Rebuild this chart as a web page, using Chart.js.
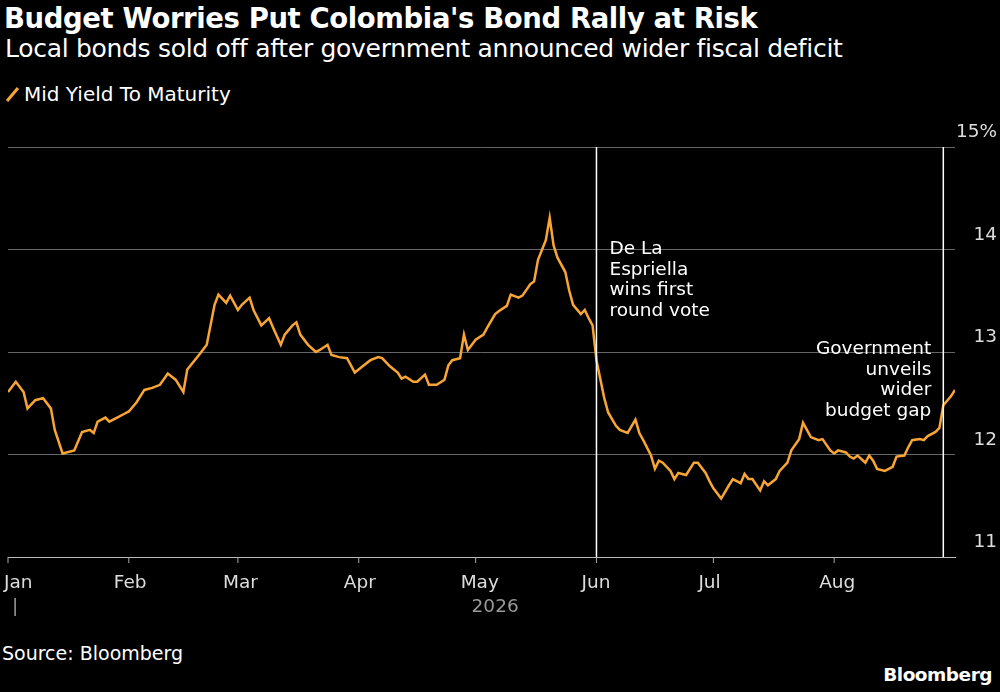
<!DOCTYPE html>
<html>
<head>
<meta charset="utf-8">
<script src="https://cdn.jsdelivr.net/npm/chart.js@4.4.1/dist/chart.umd.min.js"></script>
<style>
  html, body { margin: 0; padding: 0; background: #000; }
  body { width: 1000px; height: 692px; position: relative; overflow: hidden; font-family: "DejaVu Sans", sans-serif; color: #fff; }
  #title { position: absolute; left: 4px; top: 2px; font-size: 27.5px; font-weight: bold; letter-spacing: -0.4px; }
  #subtitle { position: absolute; left: 5px; top: 34px; font-size: 25px; letter-spacing: -0.3px; }
  #legend { position: absolute; left: 5px; top: 82px; font-size: 20px; }
  #legend i { display: inline-block; width: 3px; height: 17px; background: #f9a535; transform: rotate(40deg); margin: 0 10px 0 6px; vertical-align: -2px; }
  #source { position: absolute; left: 2px; top: 642px; font-size: 19px; }
  #brand { position: absolute; right: 8px; top: 664px; font-size: 18.5px; font-weight: bold; letter-spacing: -0.5px; }
  #wrap { position: absolute; left: 0; top: 0; width: 1000px; height: 692px; }
</style>
</head>
<body>
<div id="title">Budget Worries Put Colombia's Bond Rally at Risk</div>
<div id="subtitle">Local bonds sold off after government announced wider fiscal deficit</div>
<div id="legend"><i></i>Mid Yield To Maturity</div>
<div id="source">Source: Bloomberg</div>
<div id="brand">Bloomberg</div>
<div id="wrap"><canvas id="chart"></canvas></div>
<script>
// day of year 2026 (0 = Jan 1)
const days = [0,2,4,5,7,9,11,12,14,17,19,21,22,23,25,26,28,30,31,33,35,37,39,41,43,45,46,49,51,53,54,56,57,59,60,62,63,65,67,68,70,71,73,74,75,77,79,80,82,83,85,87,88,89,91,93,95,96,98,100,101,102,104,105,107,108,110,112,113,114,116,117,118,120,122,123,125,126,128,129,131,132,134,135,136,138,139,140,141,143,144,145,147,148,149,150,151,153,154,156,157,159,161,162,163,165,166,167,168,170,171,172,174,176,177,179,180,181,183,185,186,188,189,190,191,193,194,195,197,198,200,201,203,204,205,206,208,209,211,212,213,215,216,217,218,220,221,222,223,225,227,228,230,231,232,234,235,236,238,239,240,242,243];
const yields = [12.61,12.71,12.61,12.45,12.53,12.55,12.45,12.24,12.01,12.04,12.22,12.24,12.21,12.32,12.36,12.32,12.36,12.40,12.42,12.51,12.63,12.65,12.68,12.79,12.73,12.61,12.83,12.97,13.07,13.46,13.56,13.48,13.55,13.41,13.46,13.53,13.41,13.26,13.33,13.24,13.07,13.17,13.26,13.29,13.17,13.07,13.00,13.02,13.07,12.97,12.95,12.94,12.87,12.80,12.86,12.92,12.95,12.94,12.86,12.80,12.74,12.76,12.71,12.71,12.78,12.68,12.68,12.73,12.87,12.92,12.94,13.17,13.02,13.12,13.17,13.24,13.37,13.40,13.45,13.56,13.53,13.55,13.66,13.69,13.90,14.09,14.31,14.04,13.92,13.78,13.60,13.46,13.37,13.41,13.33,13.26,12.92,12.55,12.41,12.28,12.24,12.21,12.34,12.21,12.14,11.99,11.86,11.94,11.92,11.84,11.76,11.82,11.80,11.92,11.92,11.82,11.74,11.67,11.57,11.70,11.76,11.72,11.81,11.76,11.76,11.65,11.74,11.70,11.76,11.84,11.92,12.04,12.15,12.31,12.24,12.17,12.14,12.15,12.04,12.01,12.04,12.02,11.98,11.96,11.99,11.92,11.99,11.94,11.86,11.84,11.88,11.98,11.99,12.07,12.14,12.15,12.14,12.18,12.22,12.26,12.48,12.57,12.63];
const monthNames = ["Jan","Feb","Mar","Apr","May","Jun","Jul","Aug"];
const monthStarts = [0,31,59,90,120,151,181,212];
const yTicks = [11,12,13,14,15];
const events = [
  { day: 151, lines: ["De La","Espriella","wins first","round vote"], align: "left" },
  { day: 240, lines: ["Government","unveils","wider","budget gap"], align: "right" }
];

const overlay = {
  id: 'overlay',
  afterDatasetsDraw(chart) {
    const { ctx, chartArea: a, scales: { x, y } } = chart;
    ctx.save();
    ctx.font = '18.5px "DejaVu Sans", sans-serif';
    ctx.fillStyle = '#fff';
    events.forEach(ev => {
      const px = x.getPixelForValue(ev.day);
      ctx.strokeStyle = '#fff'; ctx.lineWidth = 1.5;
      ctx.beginPath(); ctx.moveTo(px, a.top); ctx.lineTo(px, a.bottom); ctx.stroke();
      ctx.textAlign = ev.align; ctx.textBaseline = 'alphabetic';
      const tx = ev.align === 'left' ? px + 13 : px - 12;
      const ty = ev.align === 'left' ? 254 : 354;
      ev.lines.forEach((t, i) => ctx.fillText(t, tx, ty + i * 20.5));
    });
    ctx.fillStyle = '#ddd'; ctx.textAlign = 'right';
    yTicks.forEach(v => {
      ctx.fillText(v === 15 ? '15%' : String(v), 997, y.getPixelForValue(v) - 10);
    });
    ctx.textAlign = 'left';
    monthStarts.forEach((d, i) => {
      const px = x.getPixelForValue(d);
      ctx.fillStyle = '#ddd';
      ctx.fillText(monthNames[i], px + (i === 0 ? -4 : -15), 588);
      ctx.strokeStyle = '#aaa'; ctx.lineWidth = 1;
      ctx.beginPath(); ctx.moveTo(px, a.bottom); ctx.lineTo(px, a.bottom + 6); ctx.stroke();
    });
    ctx.fillStyle = '#999';
    ctx.fillText('|', 12, 612);
    ctx.textAlign = 'center';
    ctx.fillText('2026', x.getPixelForValue(125), 612);
    ctx.restore();
  }
};

new Chart(document.getElementById('chart'), {
  type: 'line',
  data: {
    datasets: [{
      label: 'Mid Yield To Maturity',
      data: days.map((d, i) => ({ x: d, y: yields[i] })),
      borderColor: '#f9a535',
      borderWidth: 2.5,
      pointRadius: 0,
      tension: 0
    }]
  },
  options: {
    responsive: true,
    maintainAspectRatio: false,
    animation: false,
    layout: { padding: { left: 8, right: 45, top: 147, bottom: 127 } },
    plugins: { legend: { display: false }, tooltip: { enabled: false } },
    scales: {
      x: {
        type: 'linear', min: 0, max: 243,
        ticks: { display: false },
        grid: { display: false },
        border: { color: '#bbb', width: 1 }
      },
      y: {
        position: 'right', min: 11, max: 15,
        afterBuildTicks: s => { s.ticks = yTicks.map(v => ({ value: v })); },
        ticks: { display: false },
        grid: { color: '#666', lineWidth: 1, drawTicks: false },
        border: { display: false }
      }
    }
  },
  plugins: [overlay]
});
</script>
</body>
</html>
